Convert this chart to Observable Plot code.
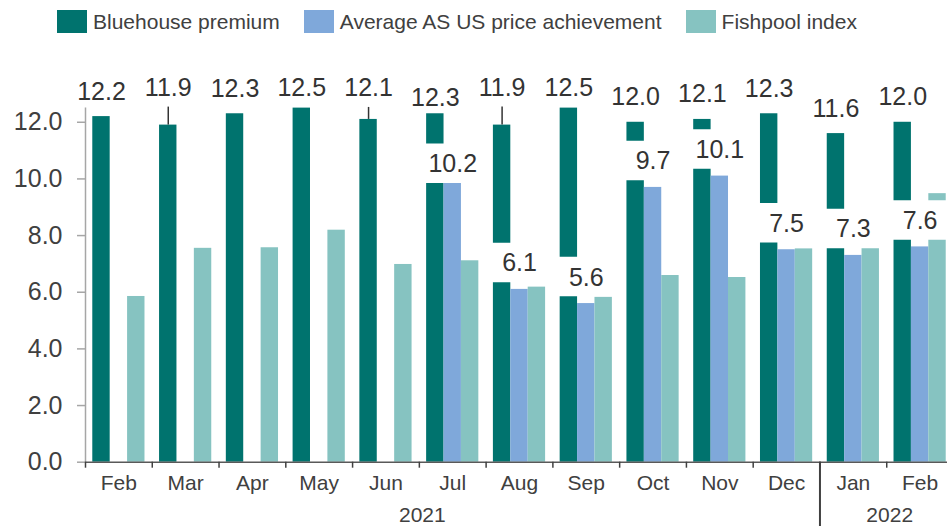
<!DOCTYPE html>
<html><head><meta charset="utf-8">
<script src="https://cdn.jsdelivr.net/npm/d3@7"></script>
<script src="https://cdn.jsdelivr.net/npm/@observablehq/plot@0.6"></script>
<style>
html,body{margin:0;padding:0;background:#fff;overflow:hidden}
body{font-family:"Liberation Sans",Arial,sans-serif;color:#404040}
#legend{height:44px;box-sizing:border-box;display:flex;align-items:center;padding-left:57px;padding-bottom:1px;font-size:21px;color:#404040;white-space:nowrap}
.item{display:flex;align-items:center;margin-right:24px}
.sw{width:30px;height:23px;margin-right:6px;flex:none}
#chart svg{display:block;max-width:none}
</style></head>
<body>
<div id="legend"></div>
<div id="chart"></div>
<script>
// ---- data ----
const months = ["2021-02","2021-03","2021-04","2021-05","2021-06","2021-07","2021-08","2021-09","2021-10","2021-11","2021-12","2022-01","2022-02"];
const bluehouse = [12.2, 11.9, 12.3, 12.5, 12.1, 12.3, 11.9, 12.5, 12.0, 12.1, 12.3, 11.6, 12.0];
const avgASUS   = [null, null, null, null, null, 10.2, 6.1, 5.6, 9.7, 10.1, 7.5, 7.3, 7.6];
const fishpool  = [5.85, 7.55, 7.57, 8.19, 6.98, 7.11, 6.18, 5.82, 6.59, 6.52, 7.53, 7.55, 9.48];
const seriesNames = ["Bluehouse premium", "Average AS US price achievement", "Fishpool index"];
const yTicks = [0, 2, 4, 6, 8, 10, 12];

// ---- styling / layout ----
const colors = ["#00736e", "#7fa8da", "#86c3c1"];
const W = 947, H = 482, ML = 85, MT = 63.6, MB = 64.3;
const xRange = [85, 953];
const yMax = 12.5;
const bw = (xRange[1] - xRange[0]) / months.length;
const barW = 17.4;
const pad = (bw - 3 * barW) / 2;
const labelSize = 25;
// manual label nudges (px), as in the original
const bhLabelShift = {"2021-03": -12, "2021-05": 5, "2021-06": -6, "2021-07": 9, "2021-08": -12, "2021-09": 5};
const avgLabelShift = {"2021-07": 17};

// legend
const legend = document.getElementById("legend");
seriesNames.forEach((n, i) => {
  const it = document.createElement("div"); it.className = "item";
  const sw = document.createElement("div"); sw.className = "sw"; sw.style.background = colors[i];
  const tx = document.createElement("span"); tx.textContent = n;
  it.appendChild(sw); it.appendChild(tx); legend.appendChild(it);
});

const rows = months.map((m, i) => ({month: m, bh: bluehouse[i], avg: avgASUS[i], fp: fishpool[i]}));
const avgRows = rows.filter(d => d.avg != null);
const fmt = d3.format(".1f");
const monthName = k => d3.timeFormat("%b")(d3.timeParse("%Y-%m")(k));

const years = Array.from(new Set(months.map(m => m.slice(0, 4))));
const yearRows = years.map(y => {
  const ms = months.filter(m => m.startsWith(y));
  return {year: y, month: ms[Math.floor(ms.length / 2)], first: ms[0]};
});
const separators = yearRows.slice(1).map(d => d.first);

const marks = [
  // bars
  Plot.barY(rows, {x: "month", y: "bh", fill: colors[0], insetLeft: pad, insetRight: bw - pad - barW}),
  Plot.barY(avgRows, {x: "month", y: "avg", fill: colors[1], insetLeft: pad + barW, insetRight: pad + barW}),
  Plot.barY(rows, {x: "month", y: "fp", fill: colors[2], insetLeft: pad + 2 * barW, insetRight: pad}),
  // white label boxes for the avg AS US labels
  ...avgRows.map(d => Plot.tickY([d], {x: "month", y: "avg", dy: -27 + (avgLabelShift[d.month] || 0),
      stroke: "white", strokeWidth: 39.5, insetLeft: 4, insetRight: 4})),
  // axes
  Plot.ruleX([months[0]], {x: d => d, y1: 0, y2: yMax, dx: -bw / 2, stroke: "#a6a6a6", strokeWidth: 1.5}),
  Plot.ruleY(yTicks, {y: d => d, insetLeft: -8, insetRight: W - ML, stroke: "#a6a6a6", strokeWidth: 1.5}),
  Plot.ruleY([0], {stroke: "#595959", strokeWidth: 1.5}),
  Plot.ruleX(months, {x: d => d, y1: 0, y2: 0, dx: -bw / 2, insetBottom: -6, stroke: "#404040", strokeWidth: 1.5}),
  Plot.ruleX(separators, {x: d => d, y1: 0, y2: 0, dx: -bw / 2, insetBottom: -MB, stroke: "#404040", strokeWidth: 2}),
  Plot.axisY({ticks: yTicks, tickSize: 0, tickPadding: 23, tickFormat: fmt, fontSize: labelSize, label: null}),
  Plot.axisX({tickSize: 0, tickPadding: 13, tickFormat: monthName, fontSize: 21, label: null}),
  Plot.text(yearRows, {x: "month", y: () => 0, text: "year", dx: -bw / 2 + 3, dy: 53.3, fontSize: 21}),
  // Bluehouse labels + leaders
  ...rows.map(d => Plot.text([d], {x: "month", y: "bh", text: r => fmt(r.bh), dx: -barW,
      dy: -25 + (bhLabelShift[d.month] || 0), fontSize: labelSize, fill: "#333"})),
  ...rows.filter(d => (bhLabelShift[d.month] || 0) < 0).map(d => {
    const len = 25 - bhLabelShift[d.month] - 19;
    return Plot.ruleX([d], {x: "month", y1: "bh", y2: "bh", dx: -barW, insetTop: -len, stroke: "#333", strokeWidth: 1.5});
  }),
  // avg AS US labels
  ...avgRows.map(d => Plot.text([d], {x: "month", y: "avg", text: r => fmt(r.avg),
      dy: -26 + (avgLabelShift[d.month] || 0), fontSize: labelSize, fill: "#333"}))
];

const chart = Plot.plot({
  width: W, height: H,
  marginLeft: ML, marginRight: 0, marginTop: MT, marginBottom: MB,
  style: {fontFamily: "'Liberation Sans', Arial, sans-serif", background: "white", color: "#404040"},
  x: {type: "band", domain: months, range: xRange, padding: 0, round: false, label: null},
  y: {domain: [0, yMax], label: null},
  marks
});
document.getElementById("chart").appendChild(chart);
</script>
</body></html>
